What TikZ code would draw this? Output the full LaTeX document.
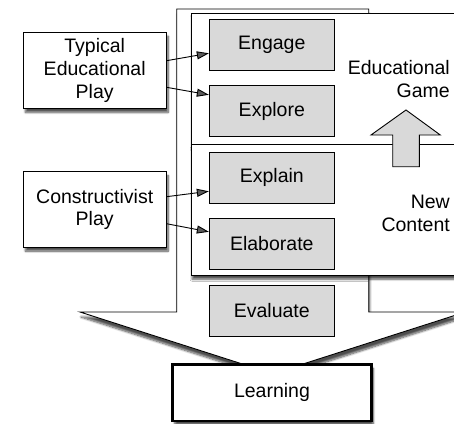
\documentclass[tikz,border=0pt]{standalone}
\usepackage{fontspec}
\setmainfont{Liberation Sans}
\usepackage{tikz}
\usetikzlibrary{arrows.meta,positioning,shadows.blur}

\begin{document}
\begin{tikzpicture}[
  x=1pt, y=-1pt,
  >=Stealth,
  every node/.style={inner sep=2pt, font=\fontsize{19.5}{22.8}\selectfont},
  box/.style={draw, line width=0.9pt, fill=white, align=center, minimum width=142.7pt,
    blur shadow={shadow xshift=2pt, shadow yshift=-4pt, shadow blur steps=8, shadow opacity=70}},
  gbox/.style={draw, line width=0.9pt, fill=gray!30, minimum width=125pt, minimum height=51pt},
  pane/.style={draw, line width=0.9pt, fill=white, anchor=north west, minimum width=290pt,
    blur shadow={shadow xshift=1pt, shadow yshift=-4pt, shadow blur steps=8, shadow opacity=70}},
  lbox/.style={draw, line width=2.6pt, fill=white, minimum width=198.5pt, minimum height=56.5pt,
    blur shadow={shadow xshift=2pt, shadow yshift=-4pt, shadow blur steps=8, shadow opacity=70}},
  link/.style={-{Triangle[length=12pt,width=8pt]}, line width=0.9pt}
]
\useasboundingbox (0,0) rectangle (454,423);
\clip (0,0) rectangle (454,423);

% --- big downward arrow ---
\draw[line width=0.9pt, fill=white,
  blur shadow={shadow xshift=1pt, shadow yshift=-5pt, shadow blur steps=8, shadow opacity=70}]
  (176.7,9) -- (368.7,9) -- (368.7,312) -- (465.4,312) -- (272.7,373.7)
  -- (80,312) -- (176.7,312) -- cycle;

% --- panes ---
\node[pane, minimum height=131.6pt] (game) at (190.7,12.7) {};
\node[pane, minimum height=130.4pt] (content) at (190.7,144.3) {};

% --- phases ---
\node[gbox] (engage) at (271.8,44.5) {Engage};
\node[gbox, below=14.6pt of engage] (explore) {Explore};
\node[gbox, below=14.6pt of explore] (explain) {Explain};
\node[gbox, below=14.6pt of explain] (elaborate) {Elaborate};
\node[gbox, below=14.6pt of elaborate] (evaluate) {Evaluate};

% up arrow
\draw[line width=0.9pt, fill=gray!30]
  (406,110) -- (440.3,135) -- (419.3,135) -- (419.3,166.7)
  -- (392.7,166.7) -- (392.7,135) -- (371,135) -- cycle;

\node[anchor=east, align=right] (gamelbl) at (452,79) {Educational\\Game};
\node[anchor=east, align=right] (contentlbl) at (452,213) {New\\Content};

% --- kinds of play ---
\node[box, minimum height=76pt] (typical) at (94.7,70.3) {Typical\\Educational\\Play};
\node[box, minimum height=75.3pt] (constr) at (94.7,209.4) {Constructivist\\Play};

\draw[link] ([yshift=9.6pt]typical.east) -- ([yshift=-8.8pt]engage.west);
\draw[link] ([yshift=-17pt]typical.east) -- ([yshift=16.2pt]explore.west);
\draw[link] ([yshift=12.7pt]constr.east) -- ([yshift=-13.8pt]explain.west);
\draw[link] ([yshift=-14.3pt]constr.east) -- ([yshift=12.2pt]elaborate.west);

% --- outcome ---
\node[lbox] (learning) at (272,392.7) {Learning};

\end{tikzpicture}
\end{document}
